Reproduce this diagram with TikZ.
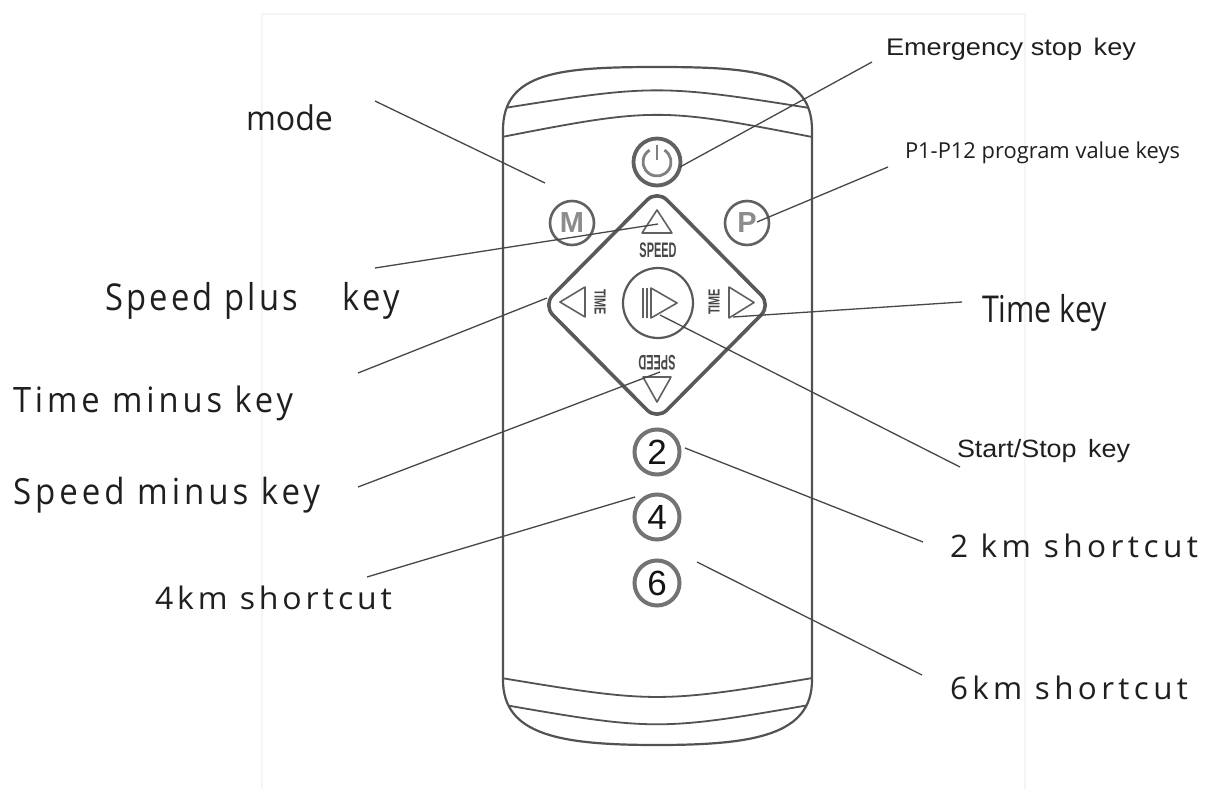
\documentclass[tikz,border=0pt]{standalone}
\usepackage{fontspec}
\setmainfont{Liberation Sans}
\newfontfamily\humfont{Open Sans}
\newfontfamily\arialfont{Liberation Sans}
\usetikzlibrary{calc}

% set a label at its natural height, squeezed or widened to a given width (pt)
\newsavebox\fitbox
\newcommand{\fitto}[2]{%
  \sbox\fitbox{#2}%
  \edef\fitnat{\the\wd\fitbox}%
  \pgfmathsetmacro\fitratio{#1/\fitnat}%
  \scalebox{\fitratio}[1]{\usebox\fitbox}}
% humanist label face: size, letter spacing
\newcommand{\hum}[2]{\humfont\fontsize{#1}{#1}\selectfont\addfontfeature{LetterSpace=#2}}
\newcommand{\ari}[1]{\arialfont\fontsize{#1}{#1}\selectfont}

\begin{document}
\begin{tikzpicture}[x=1pt,y=-1pt,
  casing/.style={draw=black!68, line width=2.2pt},
  keyring/.style={circle, draw=black!62, line width=3.2pt, inner sep=0pt},
  padline/.style={draw=black!62, line width=1.6pt, line join=round},
  padtext/.style={inner sep=0pt, text=black!72, font=\bfseries},
  leader/.style={draw=black!72, line width=1.3pt},
  lbl/.style={anchor=base west, inner sep=0pt, outer sep=0pt, text=black!88},
]
\useasboundingbox (0,0) rectangle (1205,789);
\fill[white] (0,0) rectangle (1205,789);

% faint edge of the photographed sheet
\draw[black!4, line width=1.5pt] (262,789) -- (262,14) -- (1025,14) -- (1025,789);

% ---- remote casing ----
\draw[casing] (503,130) .. controls (503,72) and (560,67) .. (657,67)
  .. controls (754,67) and (812,72) .. (812,130) -- (812,680)
  .. controls (812,735) and (754,745) .. (657,745)
  .. controls (560,745) and (503,735) .. (503,680) -- cycle;
\begin{scope}
  \clip (503,130) .. controls (503,72) and (560,67) .. (657,67)
    .. controls (754,67) and (812,72) .. (812,130) -- (812,680)
    .. controls (812,735) and (754,745) .. (657,745)
    .. controls (560,745) and (503,735) .. (503,680) -- cycle;
  \draw[casing, line width=1.8pt] (490,110.3) .. controls (657,83.7) .. (824,110.3);
  \draw[casing, line width=1.8pt] (490,139.3) .. controls (657,106.7) .. (824,139.3);
  \draw[casing, line width=1.8pt] (490,676.1) .. controls (657,703.9) .. (824,676.1);
  \draw[casing, line width=1.8pt] (490,702.4) .. controls (657,731.6) .. (824,702.4);
\end{scope}

% ---- power key ----
\node[keyring, minimum size=47pt, line width=3.8pt] (kpower) at (657,162) {};
\draw[black!50, line width=2.8pt] ($(kpower.center)+(-58:14)$)
  arc[start angle=-58, end angle=238, radius=14];
\draw[black!50, line width=2.8pt] ($(kpower.center)+(0,-17)$) -- ($(kpower.center)+(0,-2)$);

% ---- mode and program keys ----
\node[keyring, minimum size=44pt, line width=2.6pt, text=black!45,
  font=\bfseries\fontsize{29}{29}\selectfont] (kmode) at (572,223) {M};
\node[keyring, minimum size=44pt, line width=2.6pt, text=black!45,
  font=\bfseries\fontsize{29}{29}\selectfont] (kprog) at (747,223) {P};

% ---- direction pad ----
\draw[draw=black!65, line width=3.6pt, rounded corners=14pt]
  (657,190) -- (771,305) -- (657,420) -- (543,305) -- cycle;
\draw[padline] (642,233) -- (672,233) -- (657,210) -- cycle;
\draw[padline] (643,377) -- (671,377) -- (657,402) -- cycle;
\draw[padline] (585,287) -- (585,317) -- (560,302) -- cycle;
\draw[padline] (729,287) -- (729,318) -- (754,302.5) -- cycle;
\node[padtext] (tspup) at (658,250) {\fontsize{21}{21}\selectfont\scalebox{0.52}[1]{SPEED}};
\node[padtext, rotate=180] (tspdn) at (657,363) {\fontsize{21}{21}\selectfont\scalebox{0.52}[1]{SPEED}};
\node[padtext, rotate=-90] (ttml) at (600,302) {\fontsize{16}{16}\selectfont\scalebox{0.68}[1]{TIME}};
\node[padtext, rotate=90] (ttmr) at (714,302) {\fontsize{16}{16}\selectfont\scalebox{0.68}[1]{TIME}};

% start / stop key
\node[circle, draw=black!65, line width=2.2pt, minimum size=70pt, inner sep=0pt] (kstart) at (658,303) {};
\draw[padline, line width=1.3pt] (643,288) -- (643,318);
\draw[padline, line width=1.3pt] (647,288) -- (647,318);
\draw[padline] (651,288) -- (677,303) -- (651,318) -- cycle;

% ---- distance shortcut keys ----
\tikzset{numkey/.style={keyring, minimum size=45pt, line width=4pt, draw=black!55,
  text=black!92, font=\arialfont\fontsize{35}{35}\selectfont}}
\node[numkey] (k2) at (657,452) {2};
\node[numkey] (k4) at (657,517) {4};
\node[numkey] (k6) at (657,583) {6};

% ---- labels ----
\node[lbl] (lmode)  at (246,131) {\fitto{87}{\hum{34}{0}mode}};
\node[lbl] (lsplus) at (105,310) {\fitto{295}{\hum{37}{10}Speed plus\hspace{1em} key}};
\node[lbl] (ltmin)  at (13,412)  {\fitto{280}{\hum{35}{12}Time minus key}};
\node[lbl] (lspmin) at (13,504)  {\fitto{307}{\hum{36}{12}Speed minus key}};
\node[lbl] (l4km)   at (155,609) {\fitto{237}{\hum{31}{12}4km short\kern4pt cut}};
\node[lbl] (lemerg) at (886,56)  {\fitto{250}{\ari{24}Emergency stop\hspace{0.15em} key}};
\node[lbl] (lprog)  at (905,158) {\fitto{275}{\hum{22}{0}P1-P12 program value keys}};
\node[lbl] (ltime)  at (982,322) {\fitto{125}{\hum{37}{0}Time key}};
\node[lbl] (lstart) at (957,457) {\fitto{173}{\ari{25}Start/Stop\hspace{0.15em} key}};
\node[lbl] (l2km)   at (950,557) {\fitto{248}{\hum{31}{14}2 km shortcut}};
\node[lbl] (l6km)   at (950,699) {\fitto{238}{\hum{31}{14}6km shortcut}};

% ---- leader lines ----
\coordinate (mode-a)   at (375,101); \coordinate (mode-b)   at (545,183);
\coordinate (emerg-a)  at (872,62);  \coordinate (emerg-b)  at (680,167);
\coordinate (prog-a)   at (888,167); \coordinate (prog-b)   at (757,222);
\coordinate (splus-a)  at (375,268); \coordinate (splus-b)  at (658,224);
\coordinate (time-a)   at (962,302); \coordinate (time-b)   at (733,317);
\coordinate (tmin-a)   at (358,373); \coordinate (tmin-b)   at (547,298);
\coordinate (start-a)  at (960,467); \coordinate (start-b)  at (660,315);
\coordinate (spmin-a)  at (358,487); \coordinate (spmin-b)  at (660,372);
\coordinate (km2-a)    at (923,542); \coordinate (km2-b)    at (685,448);
\coordinate (km4-a)    at (367,577); \coordinate (km4-b)    at (635,497);
\coordinate (km6-a)    at (922,675); \coordinate (km6-b)    at (697,562);
\foreach \n in {mode,emerg,prog,splus,time,tmin,start,spmin,km2,km4,km6}
  \draw[leader] (\n-a) -- (\n-b);
\end{tikzpicture}
\end{document}
